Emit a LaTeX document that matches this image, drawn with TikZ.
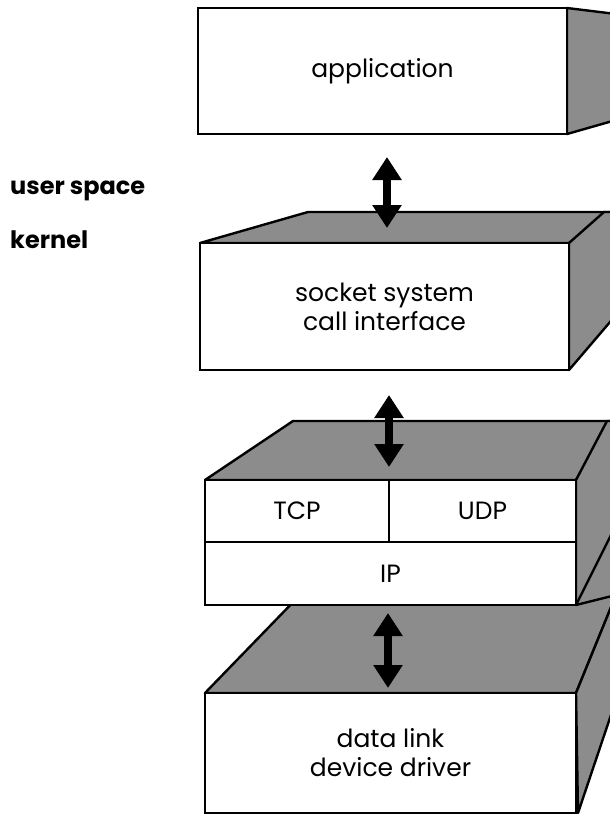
\documentclass[tikz,border=0pt]{standalone}
\usepackage{fontspec}
\setmainfont{Poppins}
\usetikzlibrary{arrows.meta}

\tikzset{
  face/.style={fill=black!45, draw=black, line width=2.4pt, line join=round},
  front/.style={draw=black, fill=white, line width=2pt, rectangle,
    inner sep=0pt, outer sep=0pt, align=center,
    font=\fontsize{25}{29}\selectfont},
  edge/.style={draw=black, line width=2.4pt},
  updown/.style={line width=8pt,
    {Triangle[width=28pt,length=23pt]}-{Triangle[width=28pt,length=23pt]}},
  side label/.style={anchor=base west, inner sep=0pt,
    font=\fontsize{24}{28}\selectfont\bfseries}
}

\begin{document}
\begin{tikzpicture}[x=1pt,y=-1pt]
  \useasboundingbox (0,0) rectangle (610,815);
  \clip (0,0) rectangle (610,815);

  % ---- data link / device driver block ----
  \path[face] (205,693) -- (300,595) -- (616,595) -- (576,693) -- cycle;
  \path[face] (576,693) -- (616,595) -- (616,700) -- (578,813) -- cycle;
  \node[front, minimum width=371pt, minimum height=120pt]
    (dl) at (390.5,753) {data link\\device driver};

  % ---- TCP / UDP / IP block ----
  \path[face] (205,480) -- (293,421) -- (616,421) -- (576,480) -- cycle;
  \path[face] (576,480) -- (607,421) -- (616,421) -- (616,595) -- (576,605) -- cycle;
  \draw[edge] (576,605) -- (616,525);
  \node[front, minimum width=371pt, minimum height=63pt]
    (ip) at (390.5,573.5) {IP};
  \node[front, minimum width=184pt, minimum height=62pt]
    (tcp) at (297,511) {TCP};
  \node[front, minimum width=187pt, minimum height=62pt]
    (udp) at (482.5,511) {UDP};

  % ---- socket system call interface block ----
  \path[face] (200,243) -- (308,212) -- (616,212) -- (569,243) -- cycle;
  \path[face] (569,243) -- (604,212) -- (616,212) -- (616,315) -- (569,370) -- cycle;
  \node[front, minimum width=369pt, minimum height=127pt]
    (sock) at (384.5,306.5) {socket system\\call interface};

  % ---- application block ----
  \path[face] (567,8) -- (616,14) -- (616,120) -- (567,134) -- cycle;
  \node[front, minimum width=369pt, minimum height=126pt]
    (app) at (382.5,71) {application};

  % ---- boundary labels ----
  \node[side label] (user) at (10,194) {user space};
  \node[side label] (kern) at (10,248) {kernel};

  % ---- data paths between layers ----
  \coordinate (a1t) at (387,157);
  \coordinate (a1b) at (387,228);
  \coordinate (a2t) at (389,395);
  \coordinate (a2b) at (389,467);
  \coordinate (a3t) at (388,613);
  \coordinate (a3b) at (388,688);
  \draw[updown] (a1t) -- (a1b);
  \draw[updown] (a2t) -- (a2b);
  \draw[updown] (a3t) -- (a3b);
\end{tikzpicture}
\end{document}
